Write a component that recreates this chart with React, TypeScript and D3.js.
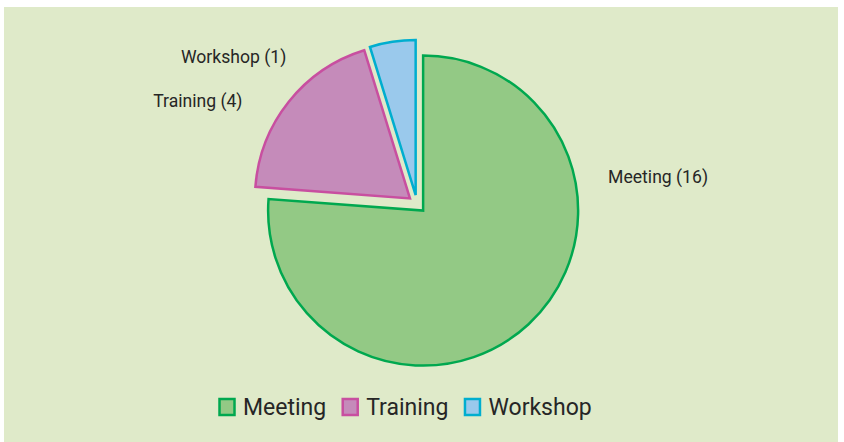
import { useEffect, useRef } from "react";
import * as d3 from "d3";

// chart data
const categories = ["Meeting", "Training", "Workshop"];
const counts = [16, 4, 1];

const fillColors = ["#93c985", "#c58bba", "#9ac9ec"];
const strokeColors = ["#00a84f", "#c84fa0", "#00aecf"];

// label placement around each slice (degrees clockwise from 12 o'clock, distance from slice apex)
const labelAngles = [79.7, 300.3, 316.8];
const labelRadius = [188, 194, 189];

export default function App() {
  const ref = useRef<SVGSVGElement>(null);

  useEffect(() => {
    const height = 442;
    const radius = 155;
    const explode = 9;
    const cx = 417;
    const cy = 204;
    const font = "Roboto, 'Noto Sans', sans-serif";

    const svg = d3.select(ref.current);
    svg.selectAll("*").remove();

    svg
      .append("rect")
      .attr("x", 4)
      .attr("y", 7)
      .attr("width", 834)
      .attr("height", height - 7)
      .attr("fill", "#dfeac9");

    const data = categories.map((c, i) => ({ label: c, value: counts[i], i }));

    const pie = d3
      .pie<any>()
      .sort(null)
      .value((d) => d.value)
      .startAngle(0)
      .endAngle(2 * Math.PI);
    const arc = d3.arc<any>().innerRadius(0).outerRadius(radius);

    const g = svg.append("g").attr("transform", `translate(${cx},${cy})`);

    const slices = g
      .selectAll(".slice")
      .data(pie(data))
      .enter()
      .append("g")
      .attr("class", "slice")
      .attr("transform", (d) => {
        const mid = (d.startAngle + d.endAngle) / 2;
        return `translate(${explode * Math.sin(mid)},${-explode * Math.cos(mid)})`;
      });

    slices
      .append("path")
      .attr("d", arc)
      .attr("fill", (d) => fillColors[d.data.i])
      .attr("stroke", (d) => strokeColors[d.data.i])
      .attr("stroke-width", 2.5)
      .attr("stroke-linejoin", "miter");

    // slice labels
    slices
      .append("text")
      .attr("x", (d) => labelRadius[d.data.i] * Math.sin((labelAngles[d.data.i] * Math.PI) / 180))
      .attr("y", (d) => -labelRadius[d.data.i] * Math.cos((labelAngles[d.data.i] * Math.PI) / 180))
      .attr("dy", "0.35em")
      .attr("text-anchor", (d) => (labelAngles[d.data.i] < 180 ? "start" : "end"))
      .style("font-family", font)
      .style("font-size", "17.6px")
      .attr("fill", "#262626")
      .text((d) => `${d.data.label} (${d.data.value})`);

    // legend along the bottom
    const legend = svg.append("g").attr("transform", `translate(218, 407)`);
    let x = 0;
    data.forEach((d, i) => {
      const item = legend.append("g").attr("transform", `translate(${x},0)`);
      item
        .append("rect")
        .attr("x", 1.5)
        .attr("y", -8)
        .attr("width", 15)
        .attr("height", 16)
        .attr("fill", fillColors[i])
        .attr("stroke", strokeColors[i])
        .attr("stroke-width", 2.5);
      const t = item
        .append("text")
        .attr("x", 25)
        .attr("dy", "0.36em")
        .style("font-family", font)
        .style("font-size", "23px")
        .attr("fill", "#262626")
        .text(d.label);
      const w = (t.node() as SVGTextElement).getComputedTextLength();
      x += 25 + w + 15;
    });
  }, []);

  return (
    <div style={{ position: "fixed", left: 0, top: 0, width: 844, height: 442, background: "#fff" }}>
      <svg ref={ref} width={844} height={442} />
    </div>
  );
}
